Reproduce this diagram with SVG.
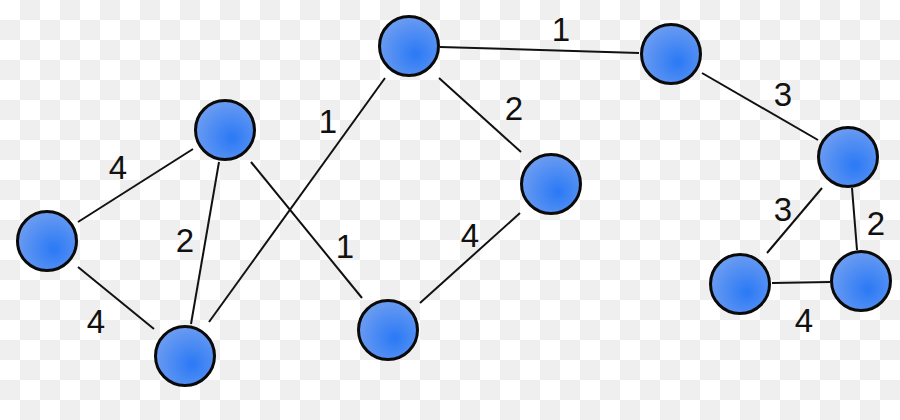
<svg xmlns="http://www.w3.org/2000/svg" width="900" height="420" viewBox="0 0 900 420">
<defs>
<pattern id="checker" x="0" y="0" width="40" height="40" patternUnits="userSpaceOnUse">
<rect width="40" height="40" fill="#ffffff"/>
<rect x="20" y="0" width="20" height="20" fill="#efefef"/>
<rect x="0" y="20" width="20" height="20" fill="#efefef"/>
</pattern>
<radialGradient id="ball" cx="0.6" cy="0.62" r="0.62" fx="0.62" fy="0.64">
<stop offset="0" stop-color="#2a79f6"/>
<stop offset="1" stop-color="#6a9bf1"/>
</radialGradient>
</defs>
<style>
.node circle{fill:url(#ball);stroke:#0a0a0a;stroke-width:3}
.edge{stroke:#111;stroke-width:2;fill:none}
.lbl{font-family:"Liberation Sans",Arial,sans-serif;font-size:33px;fill:#111;text-anchor:middle}
</style>
<rect width="900" height="420" fill="url(#checker)"/>
<g id="connectors">
<line class="edge" x1="78" y1="222" x2="193" y2="149"/>
<line class="edge" x1="78" y1="267" x2="154" y2="329"/>
<line class="edge" x1="219" y1="162" x2="191" y2="324"/>
<line class="edge" x1="209" y1="322" x2="385" y2="78"/>
<line class="edge" x1="251" y1="162" x2="362" y2="298"/>
<line class="edge" x1="439" y1="78" x2="521" y2="152"/>
<line class="edge" x1="440" y1="47" x2="639" y2="53"/>
<line class="edge" x1="420" y1="303" x2="520" y2="213"/>
<line class="edge" x1="702" y1="73" x2="818" y2="140"/>
<line class="edge" x1="822" y1="188" x2="767" y2="253"/>
<line class="edge" x1="852" y1="188" x2="857" y2="250"/>
<line class="edge" x1="772" y1="283" x2="830" y2="282"/>
</g>
<g id="labels">
<text class="lbl" x="118" y="179">4</text>
<text class="lbl" x="185" y="252">2</text>
<text class="lbl" x="96" y="333">4</text>
<text class="lbl" x="328" y="133">1</text>
<text class="lbl" x="345" y="258">1</text>
<text class="lbl" x="514" y="120">2</text>
<text class="lbl" x="470" y="247">4</text>
<text class="lbl" x="561" y="41">1</text>
<text class="lbl" x="783" y="106">3</text>
<text class="lbl" x="783" y="221">3</text>
<text class="lbl" x="876" y="235">2</text>
<text class="lbl" x="804" y="332">4</text>
</g>
<g id="nodeA" class="node"><circle cx="47" cy="241" r="29.5"/></g>
<g id="nodeB" class="node"><circle cx="225" cy="130" r="29.5"/></g>
<g id="nodeC" class="node"><circle cx="185" cy="356" r="29.5"/></g>
<g id="nodeD" class="node"><circle cx="409" cy="46" r="29.5"/></g>
<g id="nodeE" class="node"><circle cx="388" cy="330" r="29.5"/></g>
<g id="nodeF" class="node"><circle cx="551" cy="184" r="29.5"/></g>
<g id="nodeG" class="node"><circle cx="671" cy="54" r="29.5"/></g>
<g id="nodeH" class="node"><circle cx="848" cy="157" r="29.5"/></g>
<g id="nodeI" class="node"><circle cx="740" cy="284" r="29.5"/></g>
<g id="nodeJ" class="node"><circle cx="861" cy="281" r="29.5"/></g>
</svg>
